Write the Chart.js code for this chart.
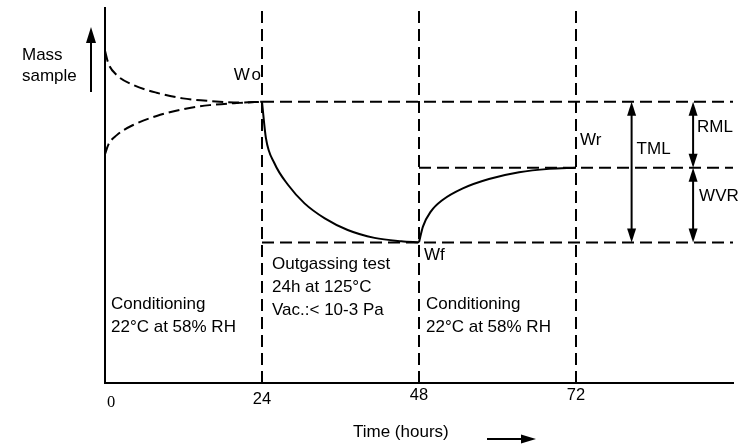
<!DOCTYPE html>
<html>
<head>
<meta charset="utf-8">
<title>Outgassing test mass curve</title>
<script src="https://cdn.jsdelivr.net/npm/chart.js@4.4.0/dist/chart.umd.min.js"></script>
<style>
  html, body { margin: 0; padding: 0; background: #fff; }
  canvas { display: block; }
</style>
</head>
<body>
<canvas id="grafico" width="748" height="444"></canvas>
<script>
// phase boundaries (hours) and x tick labels
const phaseHours = [0, 24, 48, 72];
const tickLabels = ["   0", "24", "48", "72"];
const xMax = 96;
const yMax = 100;

// mass levels (arbitrary units)
const massWo = 75;
const massWf = 37.5;
const massWr = 57.4;

// conditioning before test (two possible starting states)
const condUpperHours = [0, 0.5, 1.8, 4.3, 7.9, 11.9, 16, 20.6, 24];
const condUpperMass = [88.6, 85.3, 82.1, 79.5, 77.4, 75.9, 75.2, 74.8, 75];
const condLowerHours = [0, 0.5, 1.8, 4.3, 7.9, 11.9, 16, 20.6, 24];
const condLowerMass = [61, 63.5, 66.1, 68.8, 71.2, 73, 74.1, 74.7, 75];

// outgassing test 24h -> 48h
const outgasHours = [24, 24.6, 25.9, 28, 30.5, 33.6, 37.1, 41.2, 45.3, 48];
const outgasMass = [75, 65.3, 58.6, 52.8, 47.9, 43.9, 40.8, 38.7, 37.8, 37.5];

// reconditioning 48h -> 72h
const recovHours = [48, 48.6, 49.8, 51.6, 54.7, 58.7, 63.3, 67.9, 72];
const recovMass = [37.5, 41.7, 45.7, 48.8, 51.9, 54.4, 56.2, 57.1, 57.4];

// positions of the TML and RML / WVR arrows (hours)
const tmlHour = 80.5;
const rmlHour = 89.9;

function pts(xs, ys) {
  return xs.map(function(x, i) { return { x: x, y: ys[i] }; });
}

function curve(data, dashed) {
  return {
    data: data,
    showLine: true,
    borderColor: "#000",
    borderWidth: 2,
    borderDash: dashed ? [11, 5] : [],
    pointRadius: 0,
    cubicInterpolationMode: "monotone",
    fill: false
  };
}

function guide(data) {
  return {
    data: data,
    showLine: true,
    borderColor: "#000",
    borderWidth: 2,
    borderDash: [12, 6],
    pointRadius: 0,
    tension: 0,
    fill: false
  };
}

function arrowHead(ctx, x, y, dx, dy, len, half) {
  const nx = -dy, ny = dx;
  ctx.beginPath();
  ctx.moveTo(x, y);
  ctx.lineTo(x - dx * len + nx * half, y - dy * len + ny * half);
  ctx.lineTo(x - dx * len - nx * half, y - dy * len - ny * half);
  ctx.closePath();
  ctx.fill();
}

function arrow(ctx, x1, y1, x2, y2, both, len, half) {
  const d = Math.hypot(x2 - x1, y2 - y1);
  const dx = (x2 - x1) / d, dy = (y2 - y1) / d;
  ctx.beginPath();
  ctx.moveTo(x1 + (both ? dx * len * 0.5 : 0), y1 + (both ? dy * len * 0.5 : 0));
  ctx.lineTo(x2 - dx * len * 0.5, y2 - dy * len * 0.5);
  ctx.stroke();
  arrowHead(ctx, x2, y2, dx, dy, len, half);
  if (both) arrowHead(ctx, x1, y1, -dx, -dy, len, half);
}

const labelsPlugin = {
  id: "labels",
  afterDatasetsDraw: function(chart) {
    const ctx = chart.ctx;
    const xs = chart.scales.x, ys = chart.scales.y;
    const x24 = xs.getPixelForValue(phaseHours[1]);
    const x48 = xs.getPixelForValue(phaseHours[2]);
    const x72 = xs.getPixelForValue(phaseHours[3]);
    const yWo = ys.getPixelForValue(massWo);
    const yWf = ys.getPixelForValue(massWf);
    const yWr = ys.getPixelForValue(massWr);
    const xTml = xs.getPixelForValue(tmlHour);
    const xRml = xs.getPixelForValue(rmlHour);

    ctx.save();
    ctx.fillStyle = "#000";
    ctx.strokeStyle = "#000";
    ctx.lineWidth = 2;
    ctx.textBaseline = "alphabetic";
    ctx.font = "17px 'Liberation Sans', Arial, sans-serif";

    // y axis caption and arrow
    ctx.textAlign = "left";
    ctx.fillText("Mass", 22, 60);
    ctx.fillText("sample", 22, 81);
    arrow(ctx, 91, 92, 91, 27, false, 16, 5);

    // level labels
    ctx.textAlign = "right";
    ctx.letterSpacing = "2px";
    ctx.fillText("Wo", x24 + 1, yWo - 22);
    ctx.letterSpacing = "0px";
    ctx.textAlign = "left";
    ctx.fillText("Wf", x48 + 5, yWf + 18);
    ctx.fillText("Wr", x72 + 4, yWr - 23);
    ctx.fillText("TML", xTml + 5, 154);
    ctx.fillText("RML", xRml + 4, 132);
    ctx.fillText("WVR", xRml + 6, 201);

    // TML / RML / WVR arrows
    arrow(ctx, xTml, yWo, xTml, yWf, true, 14, 4.5);
    arrow(ctx, xRml, yWo, xRml, yWr, true, 14, 4.5);
    arrow(ctx, xRml, yWr, xRml, yWf, true, 14, 4.5);

    // phase descriptions
    ctx.fillText("Outgassing test", x24 + 10, 268.5);
    ctx.fillText("24h at 125°C", x24 + 10, 291.5);
    ctx.fillText("Vac.:< 10-3 Pa", x24 + 10, 314.5);
    ctx.fillText("Conditioning", 111, 308.5);
    ctx.fillText("22°C at 58% RH", 111, 331.5);
    ctx.fillText("Conditioning", x48 + 7, 308.5);
    ctx.fillText("22°C at 58% RH", x48 + 7, 331.5);

    // x axis caption and arrow
    ctx.fillText("Time (hours)", 353, 437);
    arrow(ctx, 487, 439, 536, 439, false, 15, 4.5);
    ctx.restore();
  }
};

document.addEventListener("DOMContentLoaded", function() {
  const datasets = [
    curve(pts(condUpperHours, condUpperMass), true),
    curve(pts(condLowerHours, condLowerMass), true),
    curve(pts(outgasHours, outgasMass), false),
    curve(pts(recovHours, recovMass), false),
    guide([{ x: phaseHours[1], y: massWo }, { x: xMax, y: massWo }]),
    guide([{ x: phaseHours[1], y: massWf }, { x: xMax, y: massWf }]),
    guide([{ x: phaseHours[2], y: massWr }, { x: xMax, y: massWr }]),
    guide([{ x: phaseHours[1], y: 0 }, { x: phaseHours[1], y: yMax }]),
    guide([{ x: phaseHours[2], y: 0 }, { x: phaseHours[2], y: yMax }]),
    guide([{ x: phaseHours[3], y: 0 }, { x: phaseHours[3], y: yMax }])
  ];

  const config = {
    type: "scatter",
    data: { datasets: datasets },
    options: {
      responsive: false,
      animation: false,
      devicePixelRatio: 1,
      layout: { padding: { top: 8, right: 15, left: 0, bottom: 0 } },
      plugins: {
        legend: { display: false },
        tooltip: { enabled: false }
      },
      scales: {
        x: {
          type: "linear",
          min: 0,
          max: xMax,
          grid: { display: false, drawTicks: false },
          border: { display: true, color: "#000", width: 2 },
          afterBuildTicks: function(scale) {
            scale.ticks = phaseHours.map(function(v) { return { value: v }; });
          },
          afterFit: function(scale) { scale.height = 61; },
          ticks: {
            autoSkip: false,
            maxRotation: 0,
            padding: 4,
            color: "#000",
            callback: function(value, index) { return tickLabels[index]; },
            font: function(c) {
              const i = c.index;
              if (i === 0) return { family: "'Liberation Serif', serif", size: 16.5, lineHeight: 1.9 };
              if (i === 1) return { family: "'Liberation Sans', Arial, sans-serif", size: 16.5, lineHeight: 1.5 };
              return { family: "'Liberation Sans', Arial, sans-serif", size: 16.5, lineHeight: 1.0 };
            }
          }
        },
        y: {
          type: "linear",
          min: 0,
          max: yMax,
          grid: { display: false, drawTicks: false },
          border: { display: true, color: "#000", width: 2 },
          ticks: { display: false },
          afterFit: function(scale) { scale.width = 105; }
        }
      }
    },
    plugins: [labelsPlugin]
  };

  new Chart(document.getElementById("grafico"), config);
});
</script>
</body>
</html>
